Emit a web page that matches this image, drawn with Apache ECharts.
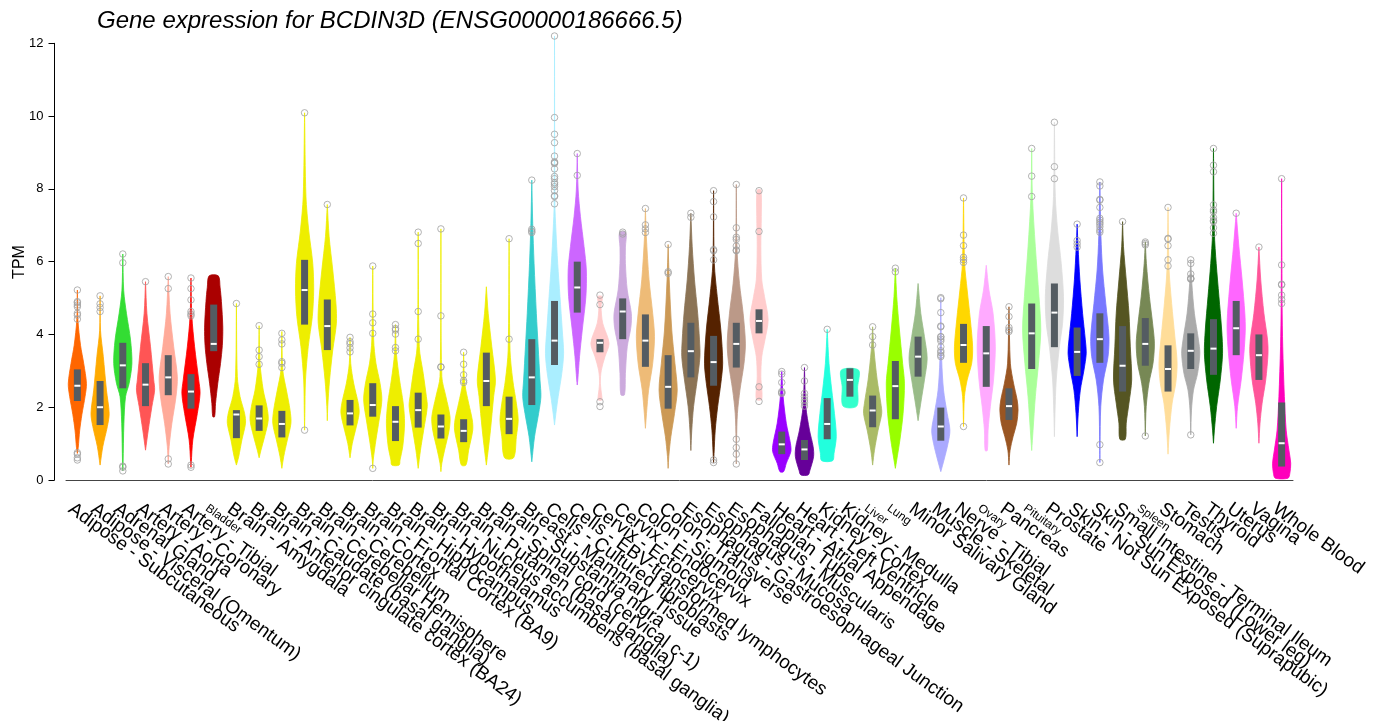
<!DOCTYPE html>
<html><head><meta charset="utf-8">
<script src="https://cdn.jsdelivr.net/npm/echarts@6/dist/echarts.min.js"></script>
<style>html,body{margin:0;padding:0;background:#fff}#chart{width:1374px;height:721px}</style>
</head><body><div id="chart"></div>
<script>
const tissues = ["Adipose - Subcutaneous","Adipose - Visceral (Omentum)","Adrenal Gland","Artery - Aorta","Artery - Coronary","Artery - Tibial","Bladder","Brain - Amygdala","Brain - Anterior cingulate cortex (BA24)","Brain - Caudate (basal ganglia)","Brain - Cerebellar Hemisphere","Brain - Cerebellum","Brain - Cortex","Brain - Frontal Cortex (BA9)","Brain - Hippocampus","Brain - Hypothalamus","Brain - Nucleus accumbens (basal ganglia)","Brain - Putamen (basal ganglia)","Brain - Spinal cord (cervical c-1)","Brain - Substantia nigra","Breast - Mammary Tissue","Cells - Cultured fibroblasts","Cells - EBV-transformed lymphocytes","Cervix - Ectocervix","Cervix - Endocervix","Colon - Sigmoid","Colon - Transverse","Esophagus - Gastroesophageal Junction","Esophagus - Mucosa","Esophagus - Muscularis","Fallopian Tube","Heart - Atrial Appendage","Heart - Left Ventricle","Kidney - Cortex","Kidney - Medulla","Liver","Lung","Minor Salivary Gland","Muscle - Skeletal","Nerve - Tibial","Ovary","Pancreas","Pituitary","Prostate","Skin - Not Sun Exposed (Suprapubic)","Skin - Sun Exposed (Lower leg)","Small Intestine - Terminal Ileum","Spleen","Stomach","Testis","Thyroid","Uterus","Vagina","Whole Blood"];
const smallLabels = ["Bladder","Liver","Lung","Ovary","Pituitary","Spleen"];
const colors = ["#FF6600","#FFAA00","#33DD33","#FF5555","#FFAA99","#FF0000","#AA0000","#EEEE00","#EEEE00","#EEEE00","#EEEE00","#EEEE00","#EEEE00","#EEEE00","#EEEE00","#EEEE00","#EEEE00","#EEEE00","#EEEE00","#EEEE00","#33CCCC","#AAEEFF","#CC66FF","#FFCCCC","#CCAADD","#EEBB77","#CC9955","#8B7355","#552200","#BB9988","#FFCCCC","#9900FF","#660099","#22FFDD","#33FFCC","#AABB66","#99FF00","#99BB88","#AAAAFF","#FFD700","#FFAAFF","#995522","#AAFF99","#DDDDDD","#0000FF","#7777FF","#555522","#778855","#FFDD99","#AAAAAA","#006600","#FF66FF","#FF5599","#FF00BB"];
const q1 = [2.17,1.51,2.52,2.03,2.33,1.96,3.54,1.15,1.35,1.17,4.27,3.57,1.5,1.74,1.07,1.44,1.14,1.04,2.03,1.26,2.06,3.16,4.6,3.51,3.87,3.11,1.96,2.82,2.59,3.09,4.03,0.71,0.55,1.12,2.29,1.45,1.67,2.84,1.08,3.22,2.56,1.65,3.05,3.65,2.86,3.22,2.43,3.14,2.43,3.05,2.89,3.43,2.75,0.37];
const medians = [2.59,2.0,3.15,2.62,2.82,2.43,3.74,1.8,1.69,1.54,5.22,4.23,1.83,2.06,1.6,1.92,1.47,1.35,2.72,1.68,2.82,3.83,5.29,3.77,4.63,3.83,2.56,3.54,3.24,3.74,4.37,0.98,0.84,1.54,2.75,1.91,2.58,3.39,1.47,3.71,3.48,2.03,4.03,4.6,3.52,3.87,3.14,3.74,3.05,3.55,3.61,4.17,3.43,1.01];
const q3 = [3.04,2.72,3.77,3.21,3.43,2.91,4.82,1.92,2.05,1.9,6.05,4.96,2.2,2.66,2.03,2.4,1.8,1.67,3.5,2.29,3.87,4.92,6.0,3.87,4.99,4.55,3.43,4.32,3.96,4.32,4.69,1.33,1.1,2.25,3.07,2.32,3.27,3.94,1.99,4.29,4.23,2.52,4.85,5.4,4.19,4.58,4.23,4.45,3.7,4.03,4.42,4.92,4.0,2.13];
// violin outline: [TPM, relative half-width] from top to bottom
const profiles = [
 [[5.22,0],[4.4,0.06],[3.7,0.35],[3.2,0.7],[2.65,1],[2.3,0.85],[1.8,0.5],[1.35,0.25],[0.9,0.1],[0.73,0]],
 [[5.06,0],[4.1,0.05],[3.4,0.35],[2.47,0.7],[1.83,1],[1.47,0.8],[0.92,0.3],[0.41,0]],
 [[6.21,0],[5.2,0.1],[4.58,0.4],[3.85,0.85],[3.2,1],[2.66,0.7],[2.29,0.3],[1.56,0.12],[0.46,0.03],[0.25,0]],
 [[5.45,0],[4.58,0.15],[3.66,0.55],[2.75,0.9],[2.47,1],[2.02,0.7],[1.37,0.3],[0.82,0]],
 [[5.59,0],[4.58,0.2],[3.66,0.6],[2.84,1],[2.29,0.85],[1.56,0.4],[0.92,0.1],[0.44,0]],
 [[5.55,0],[4.49,0.1],[3.66,0.4],[2.75,0.85],[2.38,1],[1.83,0.7],[1.1,0.2],[0.46,0.03],[0.35,0]],
 [[5.61,0.5],[5.3,0.7],[4.9,0.85],[4.2,1.0],[3.7,0.95],[3.2,0.75],[2.66,0.45],[2.1,0.2],[1.74,0.1]],
 [[4.85,0],[2.84,0.1],[2.29,0.4],[1.83,0.9],[1.56,1],[1.1,0.6],[0.64,0.25],[0.41,0]],
 [[4.24,0],[3.2,0.1],[2.47,0.45],[2.02,0.85],[1.65,1],[1.19,0.6],[0.82,0.2],[0.61,0]],
 [[4.08,0],[3.02,0.1],[2.47,0.5],[1.92,0.9],[1.56,1],[1.1,0.6],[0.64,0.2],[0.32,0]],
 [[10.09,0],[7.79,0.15],[6.87,0.45],[5.95,0.9],[5.22,1],[4.49,0.85],[3.66,0.4],[2.75,0.1],[1.83,0.03],[1.37,0]],
 [[7.57,0],[6.69,0.2],[5.77,0.6],[4.85,0.95],[4.31,1],[3.57,0.6],[2.75,0.25],[2.02,0.05],[1.63,0]],
 [[3.92,0],[3.2,0.08],[2.66,0.4],[2.11,0.9],[1.83,1],[1.37,0.6],[1.01,0.25],[0.61,0]],
 [[5.88,0],[3.85,0.1],[3.21,0.35],[2.66,0.8],[2.2,1],[1.65,0.7],[1.1,0.35],[0.55,0.05],[0.32,0]],
 [[4.27,0],[3.48,0.1],[2.75,0.45],[2.11,0.85],[1.56,1],[0.92,0.8],[0.55,0.5],[0.41,0.4]],
 [[6.81,0],[3.66,0.12],[2.93,0.55],[2.29,0.9],[2.02,1],[1.37,0.6],[0.82,0.25],[0.32,0]],
 [[6.9,0],[2.84,0.1],[2.29,0.55],[1.74,1],[1.37,0.9],[0.82,0.4],[0.46,0.1],[0.23,0]],
 [[3.51,0],[2.66,0.12],[2.11,0.55],[1.65,0.95],[1.37,1],[0.82,0.55],[0.41,0.25]],
 [[5.31,0],[4.58,0.2],[3.66,0.6],[2.75,1],[2.29,0.8],[1.37,0.45],[0.82,0.2],[0.41,0]],
 [[6.63,0],[3.57,0.1],[2.75,0.4],[2.11,0.8],[1.65,1],[1.19,0.8],[0.61,0.5]],
 [[8.24,0],[7.05,0.1],[5.95,0.25],[4.58,0.5],[3.66,0.7],[2.75,0.9],[2.29,1],[1.83,0.75],[1.19,0.3],[0.5,0]],
 [[12.2,0],[7.6,0.04],[6.87,0.15],[5.95,0.35],[5.04,0.6],[4.12,0.85],[3.48,1],[2.93,0.8],[2.29,0.4],[1.83,0.15],[1.51,0]],
 [[8.97,0],[7.97,0.1],[7.24,0.35],[6.41,0.75],[5.77,1],[5.04,0.95],[4.12,0.55],[3.39,0.25],[2.75,0.06],[2.61,0]],
 [[5.04,0.25],[4.76,0.12],[4.31,0.3],[3.76,1.0],[3.39,0.55],[3.02,0.15],[2.66,0.04],[2.3,0.2],[2.2,0.2]],
 [[6.8,0.35],[6.4,0.3],[5.95,0.3],[5.22,0.5],[4.58,0.95],[4.2,0.9],[3.66,0.5],[2.93,0.3],[2.34,0.2]],
 [[7.46,0],[6.69,0.1],[5.5,0.4],[4.58,0.8],[3.94,1],[3.2,0.8],[2.47,0.35],[1.83,0.12],[1.42,0]],
 [[6.47,0],[5.5,0.12],[4.12,0.4],[3.2,0.75],[2.47,1],[1.83,0.7],[1.19,0.3],[0.64,0.07],[0.32,0]],
 [[7.33,0],[6.41,0.15],[5.5,0.4],[4.58,0.75],[3.85,0.95],[3.39,1],[2.75,0.7],[2.02,0.3],[1.37,0.1],[0.81,0]],
 [[7.95,0],[5.95,0.08],[5.04,0.4],[4.12,0.8],[3.21,1],[2.66,0.8],[2.02,0.45],[1.37,0.18],[0.73,0.05],[0.48,0]],
 [[8.12,0],[6.32,0.08],[5.4,0.35],[4.58,0.75],[3.76,1],[3.21,0.85],[2.47,0.4],[1.83,0.12],[1.1,0.03],[0.44,0]],
 [[7.97,0.2],[7.24,0.25],[6.41,0.2],[5.5,0.3],[5.04,0.6],[4.4,1],[3.85,0.65],[3.39,0.3],[2.84,0.2],[2.22,0.3]],
 [[2.98,0],[2.29,0.15],[1.56,0.5],[1.01,0.95],[0.78,1],[0.46,0.5],[0.23,0.2]],
 [[3.09,0],[2.02,0.15],[1.37,0.55],[0.92,0.95],[0.64,1],[0.27,0.6],[0.14,0.4]],
 [[4.14,0],[3.2,0.2],[2.47,0.5],[1.83,0.8],[1.19,1],[0.73,0.75],[0.53,0.6]],
 [[3.02,0.95],[2.56,0.85],[2.03,0.75]],
 [[4.21,0],[3.57,0.15],[2.75,0.5],[2.11,0.9],[1.83,1],[1.37,0.6],[0.82,0.2],[0.41,0]],
 [[5.82,0],[5.04,0.15],[4.12,0.45],[3.2,0.8],[2.66,1],[1.83,0.85],[1.1,0.5],[0.55,0.15],[0.32,0]],
 [[5.4,0],[4.58,0.3],[3.94,0.7],[3.34,1],[2.75,0.7],[2.2,0.35],[1.63,0]],
 [[5.01,0],[3.3,0.1],[2.47,0.3],[1.83,0.7],[1.37,1],[1.01,0.8],[0.55,0.35],[0.23,0]],
 [[7.75,0],[5.95,0.12],[5.22,0.4],[4.4,0.75],[3.66,1],[3.21,0.9],[2.75,0.4],[2.29,0.1],[1.47,0]],
 [[5.9,0],[5.22,0.3],[4.58,0.75],[3.66,1],[2.75,0.8],[2.02,0.45],[1.37,0.2],[0.81,0.12]],
 [[4.76,0],[3.21,0.15],[2.66,0.5],[2.2,0.9],[1.92,1],[1.56,0.85],[1.19,0.45],[0.82,0.12],[0.41,0]],
 [[9.11,0],[7.79,0.08],[6.41,0.4],[5.04,0.8],[4.12,1],[3.21,0.75],[2.29,0.4],[1.37,0.15],[0.81,0]],
 [[9.83,0],[7.79,0.1],[6.87,0.35],[5.95,0.75],[5.04,1],[4.31,0.9],[3.66,0.55],[2.75,0.2],[1.83,0.06],[1.19,0]],
 [[7.03,0],[6.41,0.1],[5.5,0.3],[4.58,0.6],[3.85,0.9],[3.48,1],[3.02,0.75],[2.47,0.35],[1.83,0.12],[1.19,0]],
 [[8.19,0],[6.69,0.12],[5.77,0.3],[4.85,0.65],[3.94,1],[3.39,0.9],[2.75,0.4],[2.02,0.1],[0.92,0.02],[0.48,0]],
 [[7.1,0],[6.41,0.1],[5.5,0.4],[4.58,0.7],[3.66,0.85],[2.75,1],[2.11,0.7],[1.56,0.4],[1.12,0.3]],
 [[6.54,0],[5.95,0.12],[5.04,0.45],[4.31,0.8],[3.76,1],[3.21,0.85],[2.66,0.4],[2.02,0.1],[1.21,0]],
 [[7.49,0],[5.77,0.12],[4.85,0.4],[3.94,0.75],[3.21,1],[2.66,0.85],[2.11,0.45],[1.37,0.15],[0.71,0]],
 [[6.05,0],[5.4,0.12],[4.58,0.4],[3.85,0.85],[3.48,1],[2.93,0.75],[2.47,0.3],[1.92,0.08],[1.24,0]],
 [[9.11,0],[6.78,0.1],[5.95,0.3],[5.04,0.6],[4.12,0.9],[3.48,1],[2.75,0.75],[2.02,0.35],[1.37,0.1],[1.01,0]],
 [[7.33,0],[6.41,0.3],[5.5,0.65],[4.58,0.95],[4.12,1],[3.48,0.85],[2.75,0.55],[2.02,0.15],[1.42,0]],
 [[6.4,0],[5.5,0.2],[4.58,0.55],[3.85,0.95],[3.48,1],[2.75,0.75],[2.11,0.35],[1.56,0.12],[1.01,0]],
 [[8.28,0],[4.85,0.05],[3.66,0.12],[2.29,0.3],[1.37,0.5],[0.82,0.8],[0.46,1],[0.18,0.9],[0.05,0.7]]
];
const outliers = [
 [5.22,4.90,4.87,4.81,4.76,4.58,4.53,4.42,0.75,0.71,0.61,0.55],
 [5.06,4.84,4.74,4.63],
 [6.21,5.97,0.38,0.35,0.25],
 [5.45],
 [5.59,5.26,0.58,0.44],
 [5.55,5.26,4.95,4.63,4.56,4.51,0.41,0.35],
 [],
 [4.85],
 [4.24,3.57,3.39,3.18],
 [4.03,3.85,3.74,3.25,3.21,3.09],
 [10.09,1.37],
 [7.57],
 [3.92,3.80,3.74,3.63,3.52],
 [5.88,4.56,4.32,4.03,0.32],
 [4.27,4.16,4.12,4.01,3.64,3.55],
 [6.81,6.5,4.63,3.87],
 [6.9,4.51,3.11,3.1],
 [3.51,3.18,2.89,2.73,2.68],
 [],
 [6.63,3.87],
 [8.24,6.89,6.84,6.80],
 [12.2,9.96,9.5,9.27,8.9,8.74,8.72,8.7,8.55,8.34,8.28,8.17,8.13,8.06,7.95,7.81,7.79,7.59],
 [8.97,8.37],
 [5.08,4.82,2.15,2.02],
 [6.81,6.76],
 [7.46,7.01,6.9,6.8],
 [6.47,5.72,5.68],
 [7.33,7.22],
 [7.95,7.65,7.23,6.33,6.3,6.05,0.55,0.48],
 [8.12,6.93,6.67,6.61,6.43,6.32,6.3,1.12,0.89,0.71,0.44],
 [7.95,6.83,2.56,2.16],
 [2.98,2.91,2.68,2.43,2.40,2.38],
 [3.09,2.72,2.38,2.29,2.2,2.13,2.03],
 [4.14],
 [],
 [4.21,3.94,3.71],
 [5.82,5.72],
 [],
 [5.01,4.98,4.6,4.23,4.21,3.94,3.93,3.87,3.82,3.66,3.55,3.5,3.43,3.39],
 [7.75,6.73,6.44,6.12,6.05,5.98,1.47],
 [],
 [4.76,4.49,4.19,4.12,4.08],
 [9.11,8.35,7.79],
 [9.83,8.61,8.28],
 [7.03,6.58,6.49,6.4],
 [8.19,8.08,7.71,7.69,7.49,7.19,7.14,7.08,7.03,6.96,6.87,6.81,0.97,0.48],
 [7.1],
 [6.54,6.5,6.46,1.21],
 [7.49,6.64,6.62,6.44,6.05,5.88],
 [6.05,5.95,5.66,5.55,5.53,5.52,1.24],
 [9.11,8.65,8.47,7.56,7.42,7.37,7.21,7.13,7.1,6.93,6.78],
 [7.33],
 [6.4],
 [8.28,5.91,5.38,5.36,5.08,4.96,4.85]
];
const yTicks = [0,2,4,6,8,10,12];

const FONT = "'Liberation Sans', Arial, Helvetica, sans-serif";
const violinData = tissues.map((t, i) => [i, q1[i], medians[i], q3[i]]);
const outlierData = [];
outliers.forEach((arr, i) => arr.forEach(v => outlierData.push([i, v])));

function renderViolin(params, api) {
  const i = api.value(0);
  const prof = profiles[i];
  const band = api.size([1, 0])[0];
  const half = band * 0.4;
  const c = api.coord([i, 0])[0];
  const right = [], left = [];
  prof.forEach(p => {
    const y = api.coord([i, p[0]])[1];
    right.push([c + p[1] * half, y]);
    left.push([c - p[1] * half, y]);
  });
  const pts = right.concat(left.reverse());
  const yq1 = api.coord([i, api.value(1)])[1];
  const ymed = api.coord([i, api.value(2)])[1];
  const yq3 = api.coord([i, api.value(3)])[1];
  const bw = 7;
  return {
    type: 'group',
    children: [
      { type: 'polygon', shape: { points: pts, smooth: 0.3 }, style: { fill: colors[i], stroke: colors[i], lineWidth: 0.8 } },
      { type: 'rect', shape: { x: c - bw / 2, y: yq3, width: bw, height: yq1 - yq3 }, style: { fill: '#545c62' } },
      { type: 'rect', shape: { x: c - bw / 2 + 0.5, y: ymed - 1, width: bw - 1, height: 2 }, style: { fill: '#ffffff' } }
    ]
  };
}

function renderLabel(params, api) {
  const i = api.value(0);
  const p = api.coord([i, 0]);
  const name = tissues[i];
  const small = smallLabels.indexOf(name) >= 0;
  return {
    type: 'text',
    x: p[0] - 7,
    y: p[1] + 27,
    rotation: -36 * Math.PI / 180,
    style: { text: name, fontSize: small ? 12 : 19, fontFamily: FONT, fill: '#000', align: 'left', verticalAlign: 'middle' }
  };
}

const chart = echarts.init(document.getElementById('chart'), null, { renderer: 'canvas' });
chart.setOption({
  animation: false,
  backgroundColor: '#fff',
  title: {
    text: 'Gene expression for BCDIN3D (ENSG00000186666.5)',
    left: 97, top: 9, padding: 0,
    textStyle: { fontSize: 24, fontStyle: 'italic', fontWeight: 'normal', color: '#000', fontFamily: FONT }
  },
  graphic: [{
    type: 'text', x: 20, y: 262, rotation: Math.PI / 2,
    style: { text: 'TPM', fontSize: 16, fontFamily: FONT, fill: '#000', align: 'center', verticalAlign: 'middle' }
  }],
  grid: { left: 66, right: 81, top: 43.3, bottom: 241 },
  xAxis: {
    type: 'category', data: tissues,
    axisLine: { lineStyle: { color: '#444', width: 1 } },
    axisTick: { alignWithLabel: true, length: 6, lineStyle: { color: '#444' } },
    axisLabel: { show: false },
    splitLine: { show: false }
  },
  yAxis: {
    type: 'value', min: 0, max: 12, interval: 2, offset: 11.5,
    axisLine: { show: true, lineStyle: { color: '#000', width: 1 } },
    axisTick: { show: true, length: 6, lineStyle: { color: '#000' } },
    axisLabel: { fontSize: 13, color: '#000', margin: 11, fontFamily: FONT },
    splitLine: { show: false }
  },
  series: [
    { type: 'custom', name: 'violins', data: violinData, renderItem: renderViolin, clip: false, z: 2,
      encode: { x: 0, y: [1, 2, 3] } },
    { type: 'scatter', name: 'outliers', data: outlierData, symbol: 'circle', symbolSize: 6.5, clip: false, z: 3,
      itemStyle: { color: 'rgba(255,255,255,0)', borderColor: '#a0a0a0', borderWidth: 1 } },
    { type: 'custom', name: 'labels', data: tissues.map((t, i) => [i, 0]), renderItem: renderLabel, clip: false, silent: true, z: 4,
      encode: { x: 0, y: 1 } }
  ]
});
</script>
</body></html>
